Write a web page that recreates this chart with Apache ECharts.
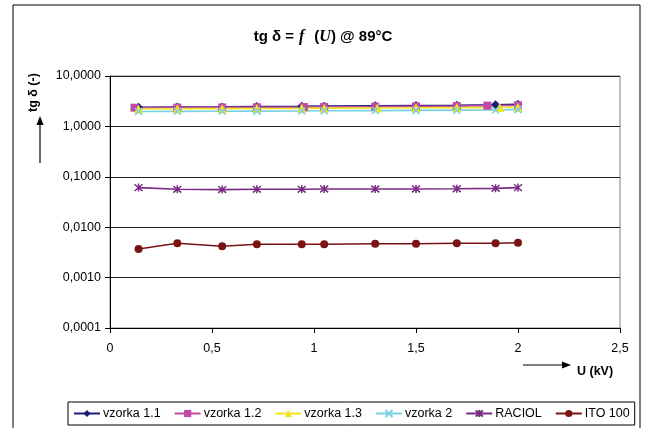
<!DOCTYPE html>
<html>
<head>
<meta charset="utf-8">
<script src="https://cdn.jsdelivr.net/npm/echarts@6/dist/echarts.min.js"></script>
<style>
  html, body { margin: 0; padding: 0; background: #fff; }
  #chart { width: 646px; height: 428px; }
</style>
</head>
<body>
<div id="chart"></div>
<script>
// napätie U (kV)
var uVals = [0.14, 0.33, 0.55, 0.72, 0.94, 1.05, 1.3, 1.5, 1.7, 1.89, 2.0];
var uVals12 = [0.12, 0.33, 0.55, 0.72, 0.95, 1.05, 1.3, 1.5, 1.7, 1.85, 2.0];
var uVals13 = [0.14, 0.33, 0.55, 0.72, 0.94, 1.05, 1.31, 1.5, 1.7, 1.91, 2.0];

// tg delta
var vzorka11 = [2.40, 2.42, 2.44, 2.47, 2.50, 2.52, 2.56, 2.60, 2.63, 2.68, 2.75];
var vzorka12 = [2.35, 2.36, 2.38, 2.40, 2.42, 2.44, 2.47, 2.50, 2.53, 2.58, 2.62];
var vzorka13 = [2.22, 2.24, 2.25, 2.26, 2.28, 2.30, 2.32, 2.34, 2.36, 2.38, 2.40];
var vzorka2 = [1.98, 1.99, 2.00, 2.01, 2.02, 2.04, 2.06, 2.08, 2.10, 2.12, 2.15];
var raciol = [0.061, 0.0565, 0.0557, 0.0565, 0.0565, 0.0573, 0.0573, 0.0573, 0.058, 0.059, 0.061];
var ito100 = [0.0037, 0.0048, 0.0042, 0.0046, 0.0046, 0.0046, 0.0047, 0.0047, 0.0048, 0.0048, 0.0049];

var seriesNames = ['vzorka 1.1', 'vzorka 1.2', 'vzorka 1.3', 'vzorka 2', 'RACIOL', 'ITO 100'];

function pairs(xs, ys) {
  return ys.map(function (y, i) { return [xs[i], y]; });
}

var FONT = 'Liberation Sans, Arial, sans-serif';
var crossPath = 'path://M0,0L10,10M10,0L0,10';
var starPath = 'path://M0,0L10,10M10,0L0,10M5,-1L5,11';

function mkSeries(name, data, color, symbol, size, hollow) {
  return {
    name: name,
    type: 'line',
    data: data,
    symbol: symbol,
    symbolSize: size,
    showSymbol: true,
    lineStyle: {color: color, width: 1.6},
    itemStyle: hollow
      ? {color: 'none', borderColor: color, borderWidth: 1.5}
      : {color: color, borderWidth: 0},
    emphasis: {disabled: true},
    animation: false
  };
}

var chart = echarts.init(document.getElementById('chart'), null, {renderer: 'canvas'});

chart.setOption({
  animation: false,
  title: {
    text: '{b|tg δ =} {i|f}  {b|(}{i|U}{b|) @ 89°C}',
    left: 'center',
    top: 23,
    textStyle: {
      rich: {
        b: {fontFamily: FONT, fontWeight: 'bold', fontSize: 15, color: '#000'},
        i: {fontFamily: 'Liberation Serif, Times New Roman, serif', fontStyle: 'italic', fontSize: 16, color: '#000'}
      }
    }
  },
  grid: {
    left: 110,
    right: 26,
    top: 76,
    bottom: 100,
    show: true,
    borderColor: '#808080',
    borderWidth: 1
  },
  legend: {
    data: seriesNames,
    left: 68,
    right: 0,
    bottom: 3,
    itemGap: 13,
    itemWidth: 26,
    itemHeight: 9,
    padding: [5, 5, 5, 5],
    borderColor: '#000',
    borderWidth: 1,
    textStyle: {fontFamily: FONT, fontSize: 12.5, color: '#000', padding: [0, 0, 0, -2]}
  },
  xAxis: {
    type: 'value',
    min: 0,
    max: 2.5,
    interval: 0.5,
    axisLine: {lineStyle: {color: '#000', width: 1}},
    axisTick: {show: true, inside: false, length: 5, lineStyle: {color: '#000'}},
    splitLine: {show: false},
    axisLabel: {
      margin: 14,
      fontFamily: FONT,
      fontSize: 12.5,
      color: '#000',
      formatter: function (v) { return String(v).replace('.', ','); }
    }
  },
  yAxis: {
    type: 'log',
    logBase: 10,
    min: 0.0001,
    max: 10,
    axisLine: {show: true, lineStyle: {color: '#000', width: 1}},
    axisTick: {show: true, inside: false, length: 5, lineStyle: {color: '#000'}},
    minorTick: {show: false},
    splitLine: {show: true, lineStyle: {color: '#222', width: 1}},
    axisLabel: {
      margin: 9,
      fontFamily: FONT,
      fontSize: 12.5,
      color: '#000',
      formatter: function (v) { return v.toFixed(4).replace('.', ','); }
    }
  },
  graphic: [
    {
      // vonkajší rámček grafu
      type: 'rect',
      shape: {x: 13, y: 5, width: 627, height: 430},
      style: {fill: 'none', stroke: '#000', lineWidth: 1},
      silent: true,
      z: -1
    },
    {
      type: 'text',
      x: 34,
      y: 112,
      rotation: Math.PI / 2,
      style: {text: 'tg δ (-)', font: 'bold 12.5px ' + FONT, fill: '#000', textAlign: 'left', textVerticalAlign: 'middle'},
      silent: true
    },
    {
      type: 'line',
      shape: {x1: 40, y1: 163, x2: 40, y2: 122},
      style: {stroke: '#000', lineWidth: 1.2},
      silent: true
    },
    {
      type: 'polygon',
      shape: {points: [[40, 116], [36.5, 125], [43.5, 125]]},
      style: {fill: '#000'},
      silent: true
    },
    {
      type: 'line',
      shape: {x1: 523, y1: 365, x2: 564, y2: 365},
      style: {stroke: '#000', lineWidth: 1.2},
      silent: true
    },
    {
      type: 'polygon',
      shape: {points: [[571, 365], [562, 361.5], [562, 368.5]]},
      style: {fill: '#000'},
      silent: true
    },
    {
      type: 'text',
      x: 577,
      y: 372,
      style: {text: 'U (kV)', font: 'bold 12.5px ' + FONT, fill: '#000', textAlign: 'left', textVerticalAlign: 'middle'},
      silent: true
    }
  ],
  series: [
    mkSeries('vzorka 1.1', pairs(uVals, vzorka11), '#1c1c78', 'diamond', 9, false),
    mkSeries('vzorka 1.2', pairs(uVals12, vzorka12), '#c04aa8', 'rect', 8, false),
    mkSeries('vzorka 1.3', pairs(uVals13, vzorka13), '#f0e41a', 'triangle', 9, false),
    mkSeries('vzorka 2', pairs(uVals, vzorka2), '#78d2e0', crossPath, 7, true),
    mkSeries('RACIOL', pairs(uVals, raciol), '#7a2a84', starPath, 8, true),
    mkSeries('ITO 100', pairs(uVals, ito100), '#7a1414', 'circle', 8, false)
  ]
});
</script>
</body>
</html>
